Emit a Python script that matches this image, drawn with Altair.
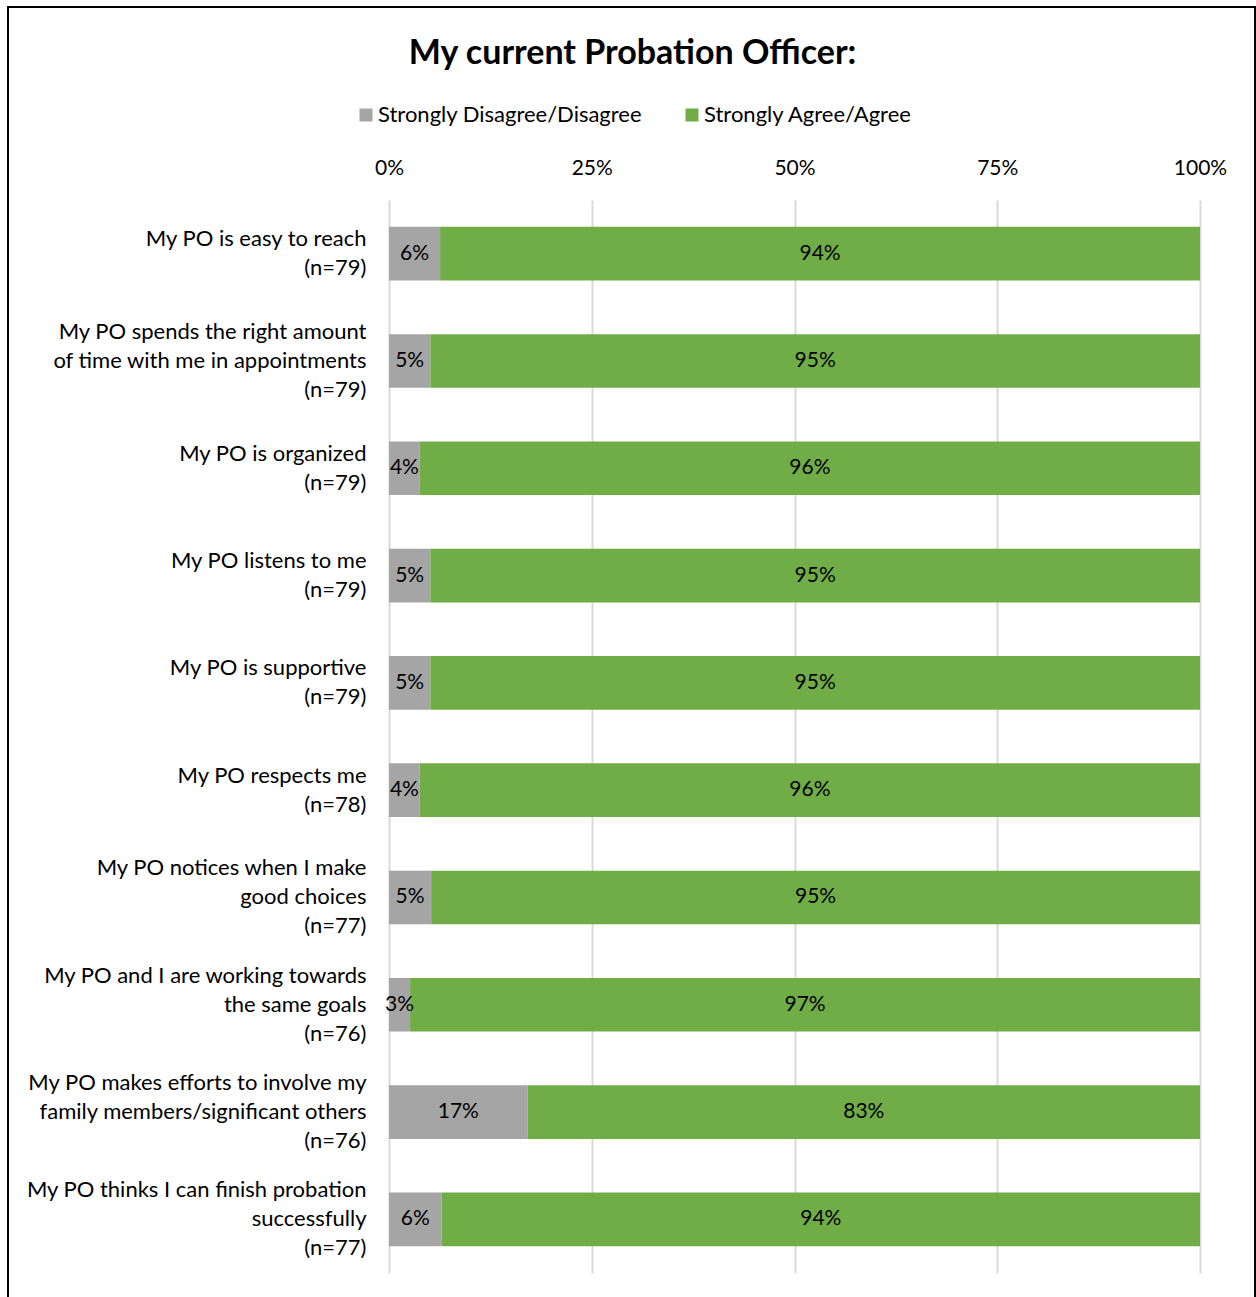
import altair as alt
import pandas as pd

items = [
    "My PO is easy to reach|(n=79)",
    "My PO spends the right amount|of time with me in appointments|(n=79)",
    "My PO is organized|(n=79)",
    "My PO listens to me|(n=79)",
    "My PO is supportive|(n=79)",
    "My PO respects me|(n=78)",
    "My PO notices when I make|good choices|(n=77)",
    "My PO and I are working towards|the same goals|(n=76)",
    "My PO makes efforts to involve my|family members/significant others|(n=76)",
    "My PO thinks I can finish probation|successfully|(n=77)",
]
disagree = [0.063, 0.051, 0.038, 0.051, 0.051, 0.038, 0.052, 0.026, 0.171, 0.065]
agree = [0.937, 0.949, 0.962, 0.949, 0.949, 0.962, 0.948, 0.974, 0.829, 0.935]
categories = ["Strongly Disagree/Disagree", "Strongly Agree/Agree"]
colors = ["#A5A5A5", "#70AD47"]

rows = []
for i, it in enumerate(items):
    d, a = disagree[i], agree[i]
    rows.append(dict(item=it, cat=categories[0], start=0.0, end=d, mid=d / 2,
                     label=f"{round(d * 100)}%", order=0))
    rows.append(dict(item=it, cat=categories[1], start=d, end=d + a, mid=d + a / 2,
                     label=f"{round(a * 100)}%", order=1))
df = pd.DataFrame(rows)

FONT = "Lato"

y_enc = alt.Y(
    "item:N", sort=items, title=None,
    scale=alt.Scale(paddingInner=0.5, paddingOuter=0.25),
    axis=alt.Axis(labelExpr="split(datum.label, '|')", labelFontSize=22,
                  labelLineHeight=29, labelPadding=23, ticks=False, domain=False,
                  labelColor="#000000", labelFont=FONT, labelLimit=400,
                  labelAlign="right", labelBaseline="middle",
                  labelOffset={"expr": "-14.5 * (length(split(datum.label, '|')) - 1)"}),
)

base = alt.Chart(df)

bars = base.mark_bar().encode(
    y=y_enc,
    x=alt.X("start:Q", scale=alt.Scale(domain=[0, 1], nice=False),
            axis=alt.Axis(orient="top", format=".0%", values=[0, 0.25, 0.5, 0.75, 1],
                          grid=True, gridColor="#D9D9D9", gridWidth=2, ticks=False,
                          domain=False, labelFontSize=21, labelFont=FONT,
                          labelColor="#000000", labelPadding=22, title=None,
                          labelFlush=False)),
    x2="end:Q",
    color=alt.Color("cat:N", sort=categories,
                    scale=alt.Scale(domain=categories, range=colors),
                    legend=alt.Legend(orient="none", direction="horizontal",
                                      legendX=-34, legendY=-96, title=None,
                                      symbolType="square", symbolSize=169,
                                      symbolStrokeWidth=0, labelLimit=400,
                                      labelFontSize=22, labelFont=FONT,
                                      labelColor="#000000", columnPadding=38,
                                      labelOffset=1)),
    order=alt.Order("order:Q"),
)

texts = base.mark_text(fontSize=21, font=FONT, color="#000000").encode(
    y=alt.Y("item:N", sort=items),
    x=alt.X("mid:Q"),
    text="label:N",
)

frame = alt.Chart(pd.DataFrame({"f": [0]})).mark_rect(
    fillOpacity=0, stroke="#000000", strokeWidth=2
).encode(
    x=alt.value(-381), x2=alt.value(866), y=alt.value(-193), y2=alt.value(1110)
)

chart = alt.layer(frame, bars, texts).properties(
    width=811, height=1073,
    title=alt.Title("My current Probation Officer:", fontSize=34, font=FONT,
                    fontWeight="bold", color="#000000", anchor="middle", dx=-162,
                    dy=69),
    autosize=alt.AutoSizeParams(type="none"),
    padding={"left": 389, "top": 200, "right": 56, "bottom": 24},
).configure(background="#FFFFFF", view=alt.ViewConfig(strokeWidth=0))

chart.save("out.html", embed_options={"renderer": "svg", "actions": False})
